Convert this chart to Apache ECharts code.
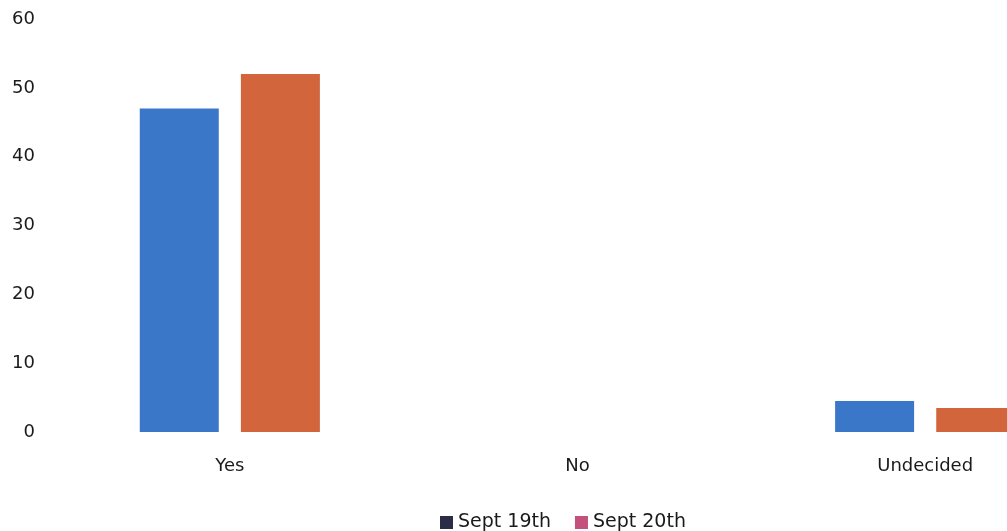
<!DOCTYPE html>
<html>
<head>
<meta charset="utf-8">
<script src="https://cdn.jsdelivr.net/npm/echarts@6/dist/echarts.min.js"></script>
<style>
html,body{margin:0;padding:0;background:#fff;overflow:hidden;width:1007px;height:531px;}
#c{width:1099px;height:531px;}
</style>
</head>
<body>
<div id="c"></div>
<script>
const categories = ['Yes', 'No', 'Undecided'];
const seriesNames = ['Sept 19th', 'Sept 20th'];
const sept19 = [47, 0, 4.5];
const sept20 = [52, 0, 3.5];
const yTicks = [0, 10, 20, 30, 40, 50, 60];

const chart = echarts.init(document.getElementById('c'));
const font = '"DejaVu Sans", "Open Sans", sans-serif';
chart.setOption({
  animation: false,
  backgroundColor: '#ffffff',
  grid: { left: 56, top: 19, bottom: 99, right: 0, containLabel: false },
  legend: {
    top: 508,
    left: 435,
    itemWidth: 13,
    itemHeight: 13,
    itemGap: 24,
    itemTextGap: 5,
    icon: 'rect',
    textStyle: { fontFamily: font, fontSize: 19, color: '#1a1a1a' },
    data: [
      { name: seriesNames[0], itemStyle: { color: '#2a2d45' } },
      { name: seriesNames[1], itemStyle: { color: '#c4507c' } }
    ]
  },
  xAxis: {
    type: 'category',
    data: categories,
    axisLine: { show: false },
    axisTick: { show: false },
    axisLabel: { fontFamily: font, fontSize: 18, color: '#1a1a1a', margin: 25 }
  },
  yAxis: {
    type: 'value',
    min: yTicks[0],
    max: yTicks[yTicks.length - 1],
    interval: 10,
    splitLine: { show: false },
    axisLine: { show: false },
    axisTick: { show: false },
    axisLabel: { fontFamily: font, fontSize: 18, color: '#1a1a1a', margin: 21 }
  },
  series: [
    {
      name: seriesNames[0], type: 'bar', data: sept19,
      barWidth: 79, barGap: '28%',
      itemStyle: { color: '#3b77c9' }
    },
    {
      name: seriesNames[1], type: 'bar', data: sept20,
      barWidth: 79, barGap: '28%',
      itemStyle: { color: '#d3653d' }
    }
  ]
});
</script>
</body>
</html>
